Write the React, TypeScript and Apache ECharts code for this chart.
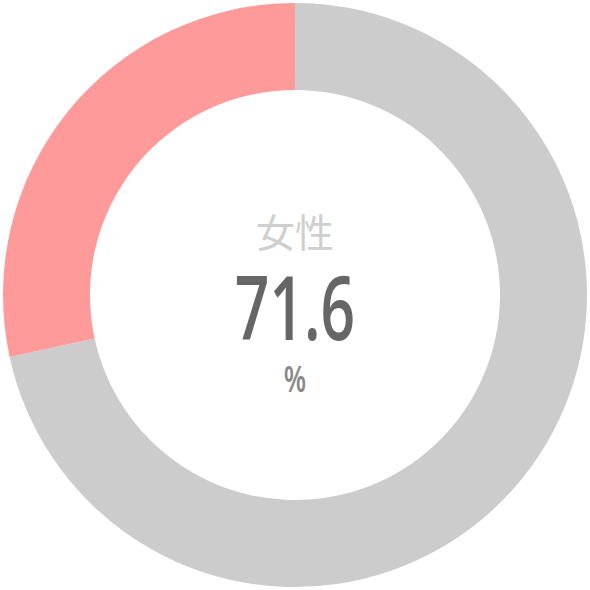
import * as echarts from 'echarts';
import React, { useEffect, useRef } from 'react';

const categories = ['女性', '男性'];
const values = [71.6, 28.4];
const colors = ['#cccccc', '#ff9a9a'];
const centerLabel = '女性';
const centerValue = '71.6';
const centerUnit = '%';

const App: React.FC = () => {
  const chartRef = useRef<HTMLDivElement>(null);

  useEffect(() => {
    if (!chartRef.current) return;
    const chart = echarts.init(chartRef.current, null, { renderer: 'svg' });

    const option: echarts.EChartsOption = {
      animation: false,
      series: [
        {
          type: 'pie',
          center: [295, 295],
          radius: [205, 292],
          startAngle: 90,
          silent: true,
          label: { show: false },
          labelLine: { show: false },
          data: categories.map((name, i) => ({
            name,
            value: values[i],
            itemStyle: { color: colors[i] },
          })),
        },
      ],
      graphic: [
        {
          type: 'text',
          x: 295,
          y: 230,
          style: {
            text: centerLabel,
            fill: '#cfcfcf',
            font: '39px "Noto Sans CJK JP", sans-serif',
            textAlign: 'center',
            textVerticalAlign: 'middle',
          },
        },
        {
          type: 'text',
          x: 295,
          y: 306,
          scaleX: 0.68,
          style: {
            text: centerValue,
            fill: '#666666',
            font: '600 89px "Open Sans", sans-serif',
            textAlign: 'center',
            textVerticalAlign: 'middle',
          },
        },
        {
          type: 'text',
          x: 295,
          y: 378,
          scaleX: 0.72,
          style: {
            text: centerUnit,
            fill: '#888888',
            font: '600 36px "Open Sans", sans-serif',
            textAlign: 'center',
            textVerticalAlign: 'middle',
          },
        },
      ],
    };

    chart.setOption(option);
    return () => chart.dispose();
  }, []);

  return (
    <div
      ref={chartRef}
      style={{ position: 'absolute', left: 0, top: 0, width: '590px', height: '590px', background: '#fff' }}
    />
  );
};

export default App;
